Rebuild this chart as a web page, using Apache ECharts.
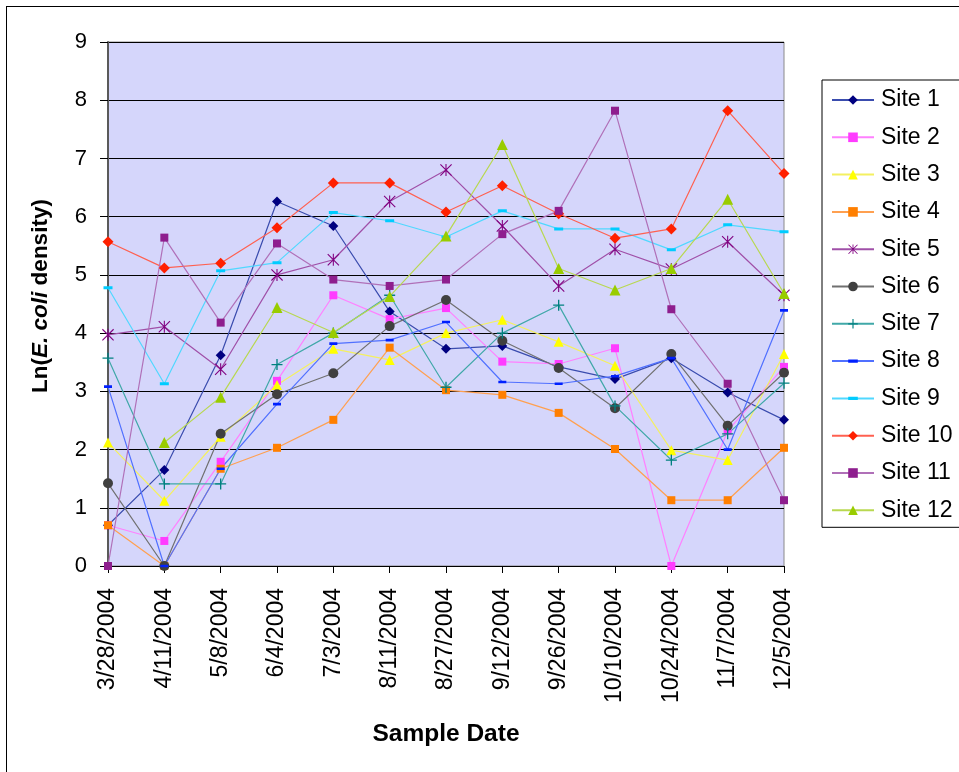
<!DOCTYPE html>
<html>
<head>
<meta charset="utf-8">
<script src="https://cdn.jsdelivr.net/npm/echarts@6/dist/echarts.min.js"></script>
<style>
  html, body { margin: 0; padding: 0; background: #fff; }
  #frame { position: absolute; left: 6px; top: 6px; width: 960px; height: 780px;
           border-left: 1px solid #000; border-top: 1px solid #000; }
  #chart { position: absolute; left: 0; top: 0; width: 959px; height: 772px; }
</style>
</head>
<body>
<div id="frame"></div>
<div id="chart"></div>
<script>
// Sample dates (x axis categories)
const sampleDates = ['3/28/2004', '4/11/2004', '5/8/2004', '6/4/2004', '7/3/2004', '8/11/2004',
  '8/27/2004', '9/12/2004', '9/26/2004', '10/10/2004', '10/24/2004', '11/7/2004', '12/5/2004'];

// Ln(E. coli density) per site
const site1  = [0.70, 1.65, 3.62, 6.26, 5.84, 4.37, 3.73, 3.78, 3.42, 3.21, 3.57, 2.98, 2.51];
const site2  = [0.70, 0.43, 1.79, 3.18, 4.65, 4.24, 4.43, 3.51, 3.47, 3.74, 0.00, 2.32, 3.42];
const site3  = [2.12, 1.12, 2.22, 3.11, 3.73, 3.54, 4.00, 4.23, 3.85, 3.44, 1.99, 1.82, 3.64];
const site4  = [0.70, 0.00, 1.67, 2.03, 2.51, 3.75, 3.02, 2.94, 2.63, 2.01, 1.13, 1.13, 2.03];
const site5  = [3.97, 4.11, 3.38, 5.00, 5.26, 6.26, 6.80, 5.84, 4.81, 5.44, 5.10, 5.57, 4.65];
const site6  = [1.42, 0.00, 2.27, 2.95, 3.31, 4.12, 4.57, 3.87, 3.40, 2.71, 3.64, 2.41, 3.32];
const site7  = [3.57, 1.41, 1.41, 3.46, 4.00, 4.65, 3.07, 4.00, 4.48, 2.75, 1.82, 2.27, 3.14];
const site8  = [3.08, 0.00, 1.67, 2.78, 3.82, 3.88, 4.19, 3.16, 3.13, 3.26, 3.57, 2.00, 4.39];
const site9  = [4.78, 3.13, 5.07, 5.21, 6.07, 5.93, 5.65, 6.10, 5.79, 5.79, 5.43, 5.86, 5.74];
const site10 = [5.57, 5.12, 5.20, 5.81, 6.58, 6.58, 6.08, 6.53, 6.05, 5.63, 5.79, 7.82, 6.74];
const site11 = [0.00, 5.64, 4.18, 5.54, 4.92, 4.81, 4.92, 5.70, 6.10, 7.82, 4.41, 3.13, 1.13];
const site12 = [null, 2.12, 2.90, 4.44, 4.01, 4.63, 5.67, 7.24, 5.11, 4.74, 5.11, 6.30, 4.68];

const yTicks = [0, 1, 2, 3, 4, 5, 6, 7, 8, 9];

// Custom marker shapes: thin plus, six-armed asterisk, short flat dash
// (the dash keeps a square 20x20 frame via two hairline corner specks)
const plusPath = 'path://M8.8,0 H11.2 V8.8 H20 V11.2 H11.2 V20 H8.8 V11.2 H0 V8.8 H8.8 Z';
const starPath = 'path://M9.1,0 H10.9 V20 H9.1 Z M1.3,0 L20,18.7 L18.7,20 L0,1.3 Z M18.7,0 L20,1.3 L1.3,20 L0,18.7 Z';
const dashPath = 'path://M0,0 L0.001,0 L0,0.001 Z M20,20 L19.999,20 L20,19.999 Z M0,6.7 H20 V13.3 H0 Z';

const seriesDefs = [
  { name: 'Site 1',  data: site1,  color: '#000080', line: '#3a4cae', symbol: 'diamond',  size: 10 },
  { name: 'Site 2',  data: site2,  color: '#ff3cff', line: '#ff80ff', symbol: 'rect',     size: 8 },
  { name: 'Site 3',  data: site3,  color: '#ffff00', line: '#f4f060', symbol: 'triangle', size: 10 },
  { name: 'Site 4',  data: site4,  color: '#ff7f00', line: '#ffa050', symbol: 'rect',     size: 8 },
  { name: 'Site 5',  data: site5,  color: '#800080', line: '#a050a8', symbol: starPath,   size: 12 },
  { name: 'Site 6',  data: site6,  color: '#404040', line: '#707070', symbol: 'circle',   size: 10 },
  { name: 'Site 7',  data: site7,  color: '#008080', line: '#40a8a8', symbol: plusPath,   size: 11 },
  { name: 'Site 8',  data: site8,  color: '#0020ff', line: '#5070ff', symbol: dashPath,   size: 8 },
  { name: 'Site 9',  data: site9,  color: '#00ccff', line: '#50d8ff', symbol: dashPath,   size: 9 },
  { name: 'Site 10', data: site10, color: '#ff2000', line: '#ff6050', symbol: 'diamond',  size: 11 },
  { name: 'Site 11', data: site11, color: '#8e1e8e', line: '#b070b8', symbol: 'rect',     size: 8 },
  { name: 'Site 12', data: site12, color: '#99cc00', line: '#b8d850', symbol: 'triangle', size: 11 }
];

const chart = echarts.init(document.getElementById('chart'), null, { renderer: 'canvas' });

chart.setOption({
  animation: false,
  textStyle: { fontFamily: 'Liberation Sans, Arial, sans-serif' },
  grid: {
    left: 108, right: 175, top: 42, bottom: 206,
    show: true, backgroundColor: '#d5d6fb', borderColor: '#8a8a8a', borderWidth: 1
  },
  legend: {
    orient: 'vertical',
    left: 822, top: 80,
    padding: [8, 60, 5, 9],
    itemWidth: 42, itemHeight: 12, itemGap: 13.3,
    borderColor: '#000', borderWidth: 1,
    backgroundColor: '#fff',
    textStyle: { fontSize: 23, color: '#000', lineHeight: 24, padding: [0, 0, 0, 2] },
    data: seriesDefs.map(s => s.name)
  },
  xAxis: {
    type: 'category',
    data: sampleDates,
    boundaryGap: false,
    axisLine: { lineStyle: { color: '#000', width: 1 } },
    axisTick: { show: true, length: 7, alignWithLabel: true, lineStyle: { color: '#000' } },
    axisLabel: { rotate: 90, fontSize: 23, color: '#000', margin: 22, interval: 0 },
    name: 'Sample Date',
    nameLocation: 'middle',
    nameGap: 156,
    nameTextStyle: { fontSize: 24.5, fontWeight: 'bold', color: '#000' }
  },
  yAxis: {
    type: 'value',
    min: yTicks[0], max: yTicks[yTicks.length - 1], interval: 1,
    axisLine: { show: true, lineStyle: { color: '#5a5a5a', width: 2 } },
    axisTick: { show: true, inside: false, length: 8, lineStyle: { color: '#000' } },
    axisLabel: { fontSize: 22, color: '#000', margin: 21 },
    splitLine: { show: true, lineStyle: { color: '#000', width: 1 } },
    name: '{n|Ln(}{i|E. coli}{n| density)}',
    nameLocation: 'middle',
    nameGap: 56,
    nameRotate: 90,
    nameTextStyle: {
      padding: [0, 0, 0, 16],
      rich: {
        n: { fontSize: 22.5, fontWeight: 'bold', color: '#000' },
        i: { fontSize: 22.5, fontWeight: 'bold', fontStyle: 'italic', color: '#000' }
      }
    }
  },
  series: seriesDefs.map(s => ({
    name: s.name,
    type: 'line',
    data: s.data,
    symbol: s.symbol,
    symbolSize: s.size,
    showSymbol: true,
    connectNulls: false,
    itemStyle: { color: s.color, borderWidth: 0 },
    lineStyle: { color: s.line, width: 1.2 },
    emphasis: { disabled: true }
  }))
});
</script>
</body>
</html>
